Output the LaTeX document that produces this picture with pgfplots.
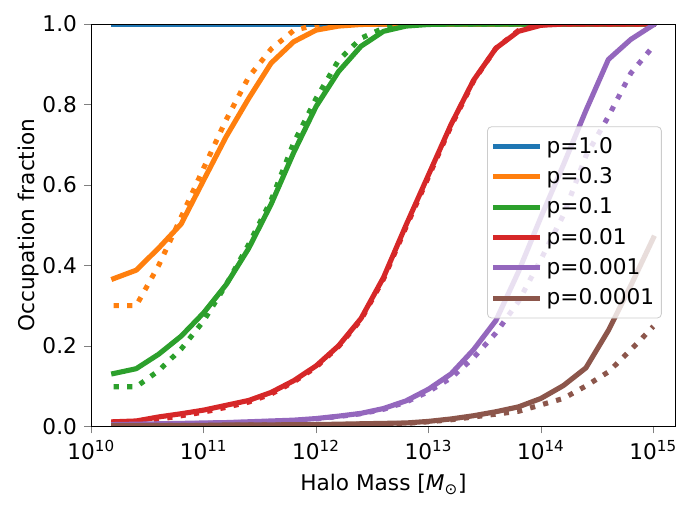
\documentclass[border=0pt]{standalone}
\usepackage{fontspec}
\setmainfont{DejaVu Sans}
\usepackage{pgfplots}
\usepackage{pgfplotstable}
\pgfplotsset{compat=1.18}

\definecolor{cA}{HTML}{1F77B4}
\definecolor{cB}{HTML}{FF7F0E}
\definecolor{cC}{HTML}{2CA02C}
\definecolor{cD}{HTML}{D62728}
\definecolor{cE}{HTML}{9467BD}
\definecolor{cF}{HTML}{8C564B}

% occupation fraction vs halo mass; solid = model, dotted = comparison
\pgfplotstableread{
M        p1 p1d p3    p3d   p10   p10d  p100  p100d p1k   p1kd  p10k  p10kd
1.585e10 1  1   0.367 0.300 0.131 0.098 0.011 0.006 0.004 0.003 0.002 0.001
2.512e10 1  1   0.388 0.300 0.143 0.098 0.013 0.008 0.005 0.004 0.002 0.001
3.981e10 1  1   0.443 0.400 0.179 0.138 0.023 0.017 0.006 0.005 0.002 0.002
6.310e10 1  1   0.503 0.520 0.224 0.192 0.031 0.026 0.007 0.006 0.002 0.002
1e11     1  1   0.612 0.642 0.282 0.262 0.040 0.035 0.008 0.007 0.002 0.002
1.585e11 1  1   0.720 0.762 0.352 0.352 0.052 0.047 0.009 0.008 0.003 0.002
2.512e11 1  1   0.815 0.868 0.442 0.452 0.064 0.060 0.011 0.010 0.003 0.003
3.981e11 1  1   0.903 0.938 0.552 0.562 0.084 0.080 0.013 0.012 0.003 0.003
6.310e11 1  1   0.956 0.984 0.680 0.704 0.113 0.110 0.015 0.014 0.004 0.003
1e12     1  1   0.985 0.998 0.795 0.815 0.150 0.147 0.019 0.018 0.004 0.004
1.585e12 1  1   0.995 1     0.882 0.910 0.200 0.198 0.025 0.024 0.005 0.004
2.512e12 1  1   0.999 1     0.945 0.965 0.268 0.265 0.032 0.031 0.006 0.005
3.981e12 1  1   1     1     0.982 0.990 0.370 0.366 0.044 0.042 0.007 0.006
6.310e12 1  1   1     1     0.995 0.998 0.500 0.495 0.063 0.060 0.008 0.007
1e13     1  1   1     1     0.999 1     0.625 0.620 0.092 0.086 0.012 0.011
1.585e13 1  1   1     1     1     1     0.750 0.746 0.130 0.120 0.018 0.016
2.512e13 1  1   1     1     1     1     0.860 0.858 0.190 0.170 0.026 0.023
3.981e13 1  1   1     1     1     1     0.940 0.940 0.263 0.232 0.036 0.030
6.310e13 1  1   1     1     1     1     0.982 0.984 0.384 0.310 0.048 0.037
1e14     1  1   1     1     1     1     0.997 0.998 0.520 0.415 0.069 0.053
1.585e14 1  1   1     1     1     1     1     1     0.650 0.525 0.101 0.069
2.512e14 1  1   1     1     1     1     1     1     0.785 0.672 0.145 0.100
3.981e14 1  1   1     1     1     1     1     1     0.912 0.770 0.238 0.135
6.310e14 1  1   1     1     1     1     1     1     0.962 0.878 0.350 0.190
1e15     1  1   1     1     1     1     1     1     0.998 0.945 0.468 0.248
}\occ

\begin{document}
\begin{tikzpicture}
\begin{axis}[
  scale only axis,
  width=286.4pt, height=197pt,
  xmode=log,
  xmin=1e10, xmax=1.585e15,
  ymin=0, ymax=1,
  axis on top,
  tick align=outside,
  xtick pos=bottom, ytick pos=left,
  major tick length=3.5pt,
  xminorticks=false,
  xtick={1e10,1e11,1e12,1e13,1e14,1e15},
  xticklabels={10\textsuperscript{10},10\textsuperscript{11},10\textsuperscript{12},10\textsuperscript{13},10\textsuperscript{14},10\textsuperscript{15}},
  ytick={0,0.2,0.4,0.6,0.8,1.0},
  yticklabel style={/pgf/number format/.cd, fixed, fixed zerofill, precision=1, assume math mode=true},
  tick label style={font=\fontsize{10.6}{12.7}\selectfont},
  label style={font=\fontsize{10.6}{12.7}\selectfont},
  xlabel={Halo Mass [\textit{M}\textsubscript{⊙}]},
  ylabel={Occupation fraction},
  ylabel shift=-5pt,
  every axis plot/.append style={line width=2.5pt, line join=round},
  sol/.style={line cap=rect},
  dot/.style={line cap=butt, dash pattern=on 2.5pt off 4.1pt},
  legend cell align=left,
  legend image code/.code={\draw[#1, solid, line cap=butt] (0pt,0pt) -- (23pt,0pt);},
  legend style={at={(0.976,0.268)}, anchor=south east,
    draw=black!20, fill=white, fill opacity=0.8, text opacity=1,
    rounded corners=2pt, font=\fontsize{10.6}{12.7}\selectfont,
    row sep=1.5pt, inner xsep=1.5pt, inner ysep=3pt},
]
\addplot[cA, sol] table[x=M, y=p1] {\occ};
\addlegendentry{p=1.0}
\addplot[cA, dot, forget plot] table[x=M, y=p1d] {\occ};
\addplot[cB, sol] table[x=M, y=p3] {\occ};
\addlegendentry{p=0.3}
\addplot[cB, dot, forget plot] table[x=M, y=p3d] {\occ};
\addplot[cC, sol] table[x=M, y=p10] {\occ};
\addlegendentry{p=0.1}
\addplot[cC, dot, forget plot] table[x=M, y=p10d] {\occ};
\addplot[cD, sol] table[x=M, y=p100] {\occ};
\addlegendentry{p=0.01}
\addplot[cD, dot, forget plot] table[x=M, y=p100d] {\occ};
\addplot[cE, sol] table[x=M, y=p1k] {\occ};
\addlegendentry{p=0.001}
\addplot[cE, dot, forget plot] table[x=M, y=p1kd] {\occ};
\addplot[cF, sol] table[x=M, y=p10k] {\occ};
\addlegendentry{p=0.0001}
\addplot[cF, dot, forget plot] table[x=M, y=p10kd] {\occ};
\end{axis}
% page margins around the axis box
\path (-44.7pt,-40.7pt) rectangle (295.8pt,208.8pt);
\end{tikzpicture}
\end{document}
